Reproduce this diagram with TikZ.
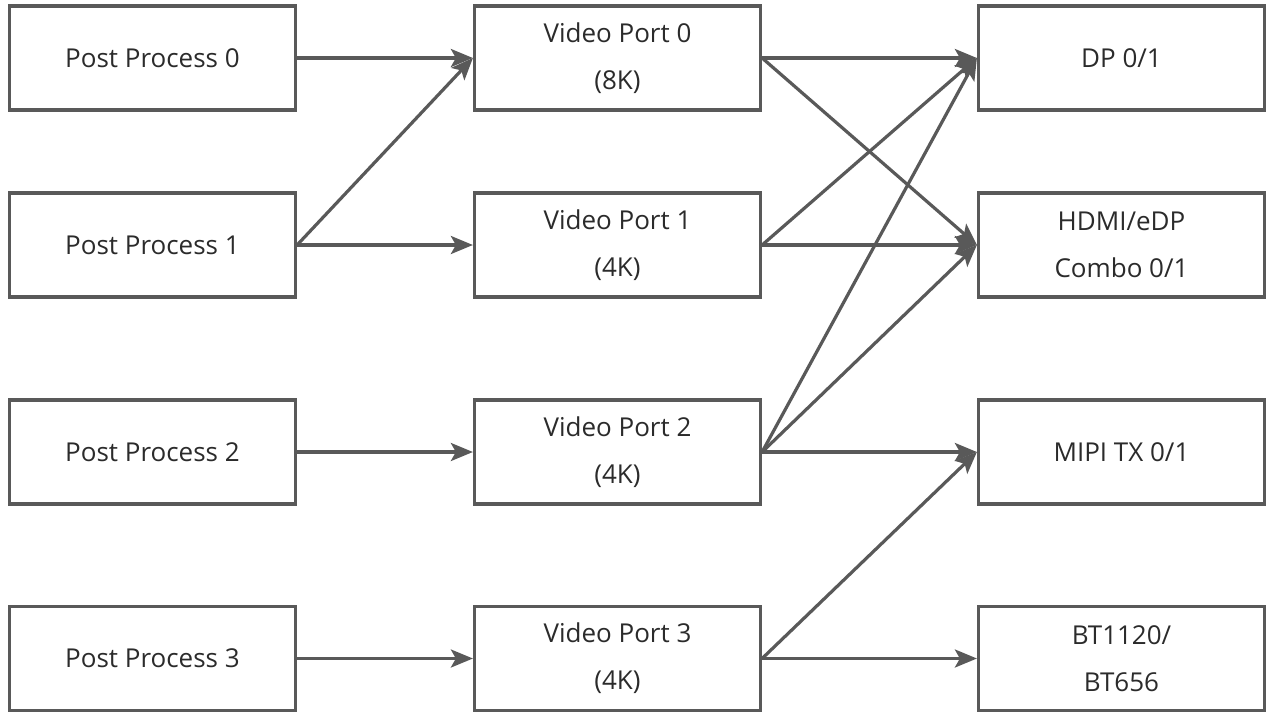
\documentclass[tikz,border=0pt]{standalone}
\usepackage{fontspec}
\setmainfont{Open Sans}
\usetikzlibrary{arrows.meta}
\definecolor{linec}{HTML}{595959}
\definecolor{textc}{HTML}{2B2B2B}
\tikzset{
  box/.style={draw=linec, line width=3.2pt, minimum width=286pt, minimum height=104pt,
    inner sep=0pt, align=center, text=textc, font=\fontsize{26}{47}\selectfont},
  arr/.style={draw=linec, line width=3.2pt, -{Stealth[length=22pt,width=18pt,inset=5pt]}}
}
\begin{document}
\begin{tikzpicture}[x=1pt,y=-1pt]
\useasboundingbox (0,0) rectangle (1277,717);
\node[box] (pp0) at (152.5,58) {Post Process 0};
\node[box] (pp1) at (152.5,245) {Post Process 1};
\node[box] (pp2) at (152.5,452) {Post Process 2};
\node[box] (pp3) at (152.5,658.5) {Post Process 3};
\node[box] (vp0) at (617.5,58) {Video Port 0\\(8K)};
\node[box] (vp1) at (617.5,245) {Video Port 1\\(4K)};
\node[box] (vp2) at (617.5,452) {Video Port 2\\(4K)};
\node[box] (vp3) at (617.5,658.5) {Video Port 3\\(4K)};
\node[box] (dp) at (1121.5,58) {DP 0/1};
\node[box] (hd) at (1121.5,245) {HDMI/eDP\\Combo 0/1};
\node[box] (mipi) at (1121.5,452) {MIPI TX 0/1};
\node[box] (bt) at (1121.5,658.5) {BT1120/\\BT656};
\draw[arr] (pp0.east) -- (vp0.west);
\draw[arr] (pp1.east) -- (vp0.west);
\draw[arr] (pp1.east) -- (vp1.west);
\draw[arr] (pp2.east) -- (vp2.west);
\draw[arr] (pp3.east) -- (vp3.west);
\draw[arr] (vp0.east) -- (dp.west);
\draw[arr] (vp0.east) -- (hd.west);
\draw[arr] (vp1.east) -- (dp.west);
\draw[arr] (vp1.east) -- (hd.west);
\draw[arr] (vp2.east) -- (dp.west);
\draw[arr] (vp2.east) -- (hd.west);
\draw[arr] (vp2.east) -- (mipi.west);
\draw[arr] (vp3.east) -- (mipi.west);
\draw[arr] (vp3.east) -- (bt.west);
\end{tikzpicture}
\end{document}
